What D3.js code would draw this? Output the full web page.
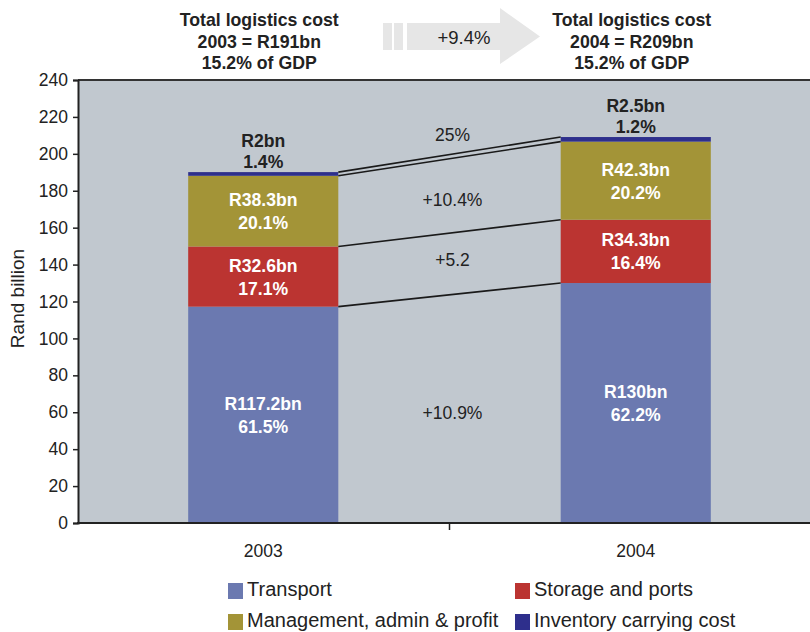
<!DOCTYPE html>
<html><head><meta charset="utf-8">
<script src="https://cdn.jsdelivr.net/npm/d3@7"></script>
<style>body{margin:0;background:#fff}svg{display:block;font-family:"Liberation Sans",Arial,sans-serif}</style>
</head><body>
<svg id="c" width="810" height="632"></svg>
<script>
const years = ["2003", "2004"];
const series = ["Transport", "Storage and ports", "Management, admin & profit", "Inventory carrying cost"];
const transport = [117.2, 130];
const storage = [32.6, 34.3];
const management = [38.3, 42.3];
const inventory = [2, 2.5];
const valueLabels = [["R117.2bn", "R130bn"], ["R32.6bn", "R34.3bn"], ["R38.3bn", "R42.3bn"], ["R2bn", "R2.5bn"]];
const shareLabels = [["61.5%", "62.2%"], ["17.1%", "16.4%"], ["20.1%", "20.2%"], ["1.4%", "1.2%"]];
const changeLabels = ["+10.9%", "+5.2", "+10.4%", "25%"];
const headers = [["Total logistics cost", "2003 = R191bn", "15.2% of GDP"], ["Total logistics cost", "2004 = R209bn", "15.2% of GDP"]];
const totalChange = "+9.4%";
const yTicks = [0, 20, 40, 60, 80, 100, 120, 140, 160, 180, 200, 220, 240];
const colors = ["#6b79b0", "#bb3431", "#a39437", "#2e2f8c"];

const svg = d3.select("#c");
const L = 78, R = 822, T = 80, B = 523;
const x = d3.scaleBand().domain(years).range([L - 1, R]).padding(0);
const y = d3.scaleLinear().domain([0, 240]).range([B, T]);
const barW = x.bandwidth() * 0.403;

svg.append("rect").attr("x", L).attr("y", T).attr("width", 810 - L).attr("height", B - T).attr("fill", "#c1c8cf");
svg.append("line").attr("x1", L).attr("x2", 810).attr("y1", T).attr("y2", T).attr("stroke", "#333").attr("stroke-width", 2);

const rows = years.map((yr, i) => ({year: yr, vals: [transport[i], storage[i], management[i], inventory[i]]}));
const stacked = rows.map(r => { let c = 0; return r.vals.map(v => { const s = [c, c + v]; c += v; return s; }); });

rows.forEach((r, i) => {
  const cx = x(r.year) + x.bandwidth() / 2;
  stacked[i].forEach((s, k) => {
    svg.append("rect").attr("x", cx - barW / 2).attr("width", barW)
      .attr("y", y(s[1])).attr("height", y(s[0]) - y(s[1])).attr("fill", colors[k]);
  });
});

for (let k = 0; k < 4; k++) {
  const x1 = x(years[0]) + x.bandwidth() / 2 + barW / 2;
  const x2 = x(years[1]) + x.bandwidth() / 2 - barW / 2;
  svg.append("line").attr("x1", x1).attr("x2", x2)
    .attr("y1", y(stacked[0][k][1])).attr("y2", y(stacked[1][k][1]))
    .attr("stroke", "#1a1a1a").attr("stroke-width", 1.6);
}

rows.forEach((r, i) => {
  const cx = x(r.year) + x.bandwidth() / 2;
  stacked[i].forEach((s, k) => {
    if (k < 3) {
      const cy = y((s[0] + s[1]) / 2);
      svg.append("text").attr("x", cx).attr("y", cy - 5).attr("text-anchor", "middle")
        .attr("font-size", 17.6).attr("font-weight", "bold").attr("fill", "#fff").text(valueLabels[k][i]);
      svg.append("text").attr("x", cx).attr("y", cy + 18).attr("text-anchor", "middle")
        .attr("font-size", 17.6).attr("font-weight", "bold").attr("fill", "#fff").text(shareLabels[k][i]);
    } else {
      const top = y(s[1]);
      svg.append("text").attr("x", cx).attr("y", top - 25).attr("text-anchor", "middle")
        .attr("font-size", 17.6).attr("font-weight", "bold").attr("fill", "#222").text(valueLabels[k][i]);
      svg.append("text").attr("x", cx).attr("y", top - 4).attr("text-anchor", "middle")
        .attr("font-size", 17.6).attr("font-weight", "bold").attr("fill", "#222").text(shareLabels[k][i]);
    }
  });
});

const midX = x(years[1]);
const changeY = [y(59), y(141.5), y(174.5), y(209.5)];
changeLabels.forEach((t, k) => {
  svg.append("text").attr("x", midX + 3).attr("y", changeY[k]).attr("text-anchor", "middle")
    .attr("dominant-baseline", "middle").attr("font-size", 17.5).attr("fill", "#222").text(t);
});

const ya = svg.append("g").attr("transform", `translate(${L},0)`)
  .call(d3.axisLeft(y).tickValues(yTicks).tickSize(5).tickPadding(5));
ya.select(".domain").attr("stroke", "#222").attr("stroke-width", 2);
ya.selectAll(".tick line").attr("stroke", "#222").attr("stroke-width", 1.5);
ya.selectAll("text").attr("font-size", 17.5).attr("fill", "#222").attr("font-family", "Liberation Sans, Arial, sans-serif");

const xa = svg.append("g").attr("transform", `translate(0,${B})`)
  .call(d3.axisBottom(x).tickSize(0).tickPadding(22));
xa.select(".domain").remove();
xa.selectAll("text").attr("font-size", 17.5).attr("fill", "#222").attr("font-family", "Liberation Sans, Arial, sans-serif");
svg.append("line").attr("x1", L - 1).attr("x2", 810).attr("y1", B).attr("y2", B).attr("stroke", "#222").attr("stroke-width", 2);
svg.append("line").attr("x1", midX).attr("x2", midX).attr("y1", B).attr("y2", B + 7).attr("stroke", "#222").attr("stroke-width", 1.5);

svg.append("text").attr("transform", `translate(24,${(T + B) / 2 - 3}) rotate(-90)`)
  .attr("text-anchor", "middle").attr("font-size", 19).attr("fill", "#222").text("Rand billion");

headers.forEach((h, i) => {
  const cx = x(years[i]) + x.bandwidth() / 2 - 4;
  h.forEach((line, j) => {
    svg.append("text").attr("x", cx).attr("y", 26 + j * 21.5).attr("text-anchor", "middle")
      .attr("font-size", 17.7).attr("font-weight", "bold").attr("fill", "#222").text(line);
  });
});

const ag = svg.append("g").attr("fill", "#e6e6e6");
ag.append("rect").attr("x", 383).attr("y", 23).attr("width", 9).attr("height", 27);
ag.append("rect").attr("x", 394).attr("y", 23).attr("width", 9).attr("height", 27);
ag.append("path").attr("d", "M407,23 L500,23 L500,8 L540,36.5 L500,64 L500,50 L407,50 Z");
svg.append("text").attr("x", 464).attr("y", 44).attr("text-anchor", "middle")
  .attr("font-size", 18.5).attr("fill", "#222").text(totalChange);

const legPos = [[228, 591], [515, 591], [228, 622], [515, 622]];
series.forEach((s, k) => {
  const [lx, ly] = legPos[k];
  svg.append("rect").attr("x", lx).attr("y", ly - 8).attr("width", 15).attr("height", 16).attr("fill", colors[k]);
  svg.append("text").attr("x", lx + 19).attr("y", ly).attr("dominant-baseline", "middle")
    .attr("font-size", 20).attr("fill", "#222").text(s);
});
</script>
</body></html>
